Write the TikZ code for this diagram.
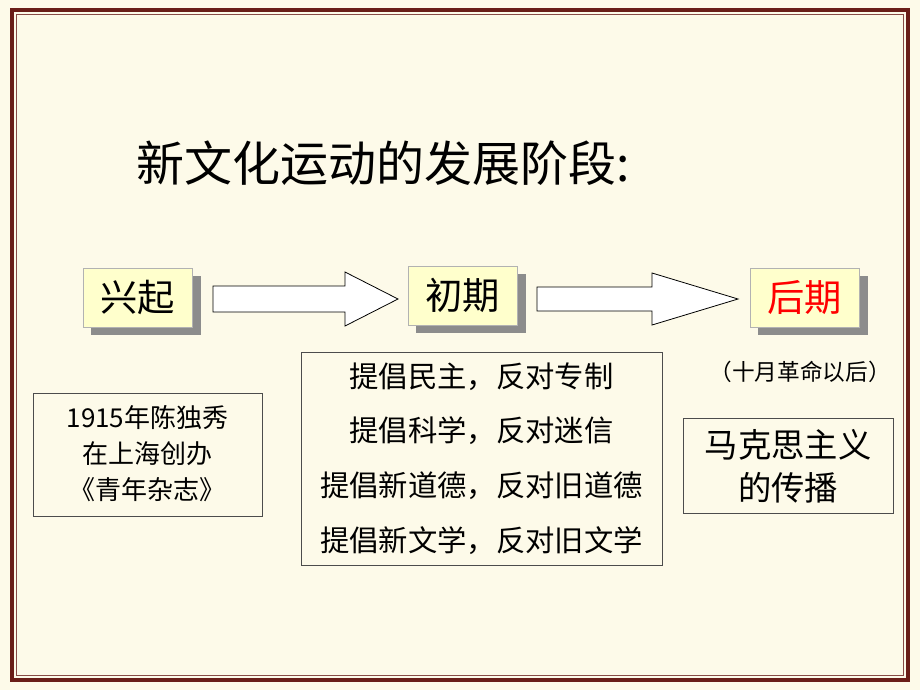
\documentclass[tikz,border=0pt]{standalone}
\usepackage{fontspec}
\newfontfamily\cjk{Noto Sans CJK SC}
\usetikzlibrary{shadows}
\definecolor{bg}{HTML}{FDFAE9}
\definecolor{bord}{HTML}{6A1E18}
\definecolor{boxy}{HTML}{FFFFCC}
\begin{document}
\begin{tikzpicture}[x=0.75pt,y=-0.75pt,
  stage/.style={draw=gray!60,fill=boxy,minimum width=82pt,minimum height=44pt,inner sep=0pt,font=\cjk\fontsize{28}{30}\selectfont,drop shadow={shadow xshift=6pt,shadow yshift=-6pt,fill=gray!90,opacity=1}},
  flowarrow/.style={draw=black,fill=white,line width=0.6pt},
  infobox/.style={draw=black!70,line width=0.5pt,inner sep=0pt},
  midtext/.style={font=\cjk\fontsize{22}{24}\selectfont}]
\useasboundingbox (0,0) rectangle (920,690);
\fill[bg] (0,0) rectangle (920,690);
\draw[bord,line width=2.4pt] (12,10) rectangle (908,680);
\draw[bord!80,line width=0.8pt] (16.5,14.5) rectangle (903.5,675.5);
\node[font=\cjk\fontsize{36}{40}\selectfont,anchor=west] (title) at (132,163) {新文化运动的发展阶段:};
\node[stage,anchor=north west] (s1) at (83,268) {兴起};
\node[stage,anchor=north west] (s2) at (408,266) {初期};
\node[stage,anchor=north west,text=red] (s3) at (750,268) {后期};
\draw[flowarrow] (213,286) -- (345,286) -- (345,272) -- (398,299) -- (345,326) -- (345,312) -- (213,312) -- cycle;
\draw[flowarrow] (537,287) -- (652,287) -- (652,273) -- (738,299) -- (652,325) -- (652,311) -- (537,311) -- cycle;
\draw[infobox] (33,393) rectangle (262,516);
\node[font=\cjk\fontsize{19.5}{27}\selectfont,align=center] (t1) at (147.5,454) {1915年陈独秀\\在上海创办\\《青年杂志》};
\draw[infobox] (301,352) rectangle (662,565);
\node[midtext] (m1) at (481.5,377) {提倡民主，反对专制};
\node[midtext] (m2) at (481.5,431) {提倡科学，反对迷信};
\node[midtext] (m3) at (481.5,486) {提倡新道德，反对旧道德};
\node[midtext] (m4) at (481.5,541) {提倡新文学，反对旧文学};
\node[font=\cjk\fontsize{17}{20}\selectfont] (note) at (800,372) {（十月革命以后）};
\draw[infobox] (683,418) rectangle (893,513);
\node[font=\cjk\fontsize{25}{32}\selectfont,align=center] (t3) at (788,466) {马克思主义\\的传播};
\end{tikzpicture}
\end{document}
